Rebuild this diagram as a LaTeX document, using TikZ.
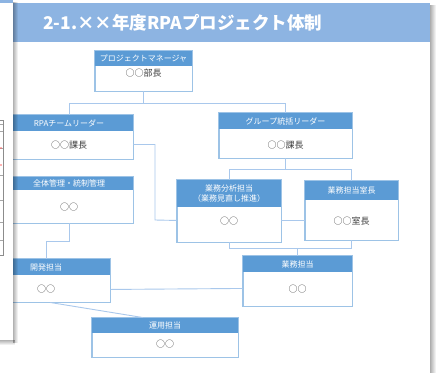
\documentclass[tikz,border=0pt]{standalone}
\usepackage{fontspec}
\setmainfont{Noto Sans CJK JP}
\usetikzlibrary{calc,fit}
\definecolor{hdrblue}{HTML}{5B9BD5}
\definecolor{titleblue}{HTML}{8DB4E2}
\definecolor{boxline}{HTML}{9DC3E6}
\definecolor{connc}{HTML}{A9C8EC}
\definecolor{bodyc}{HTML}{404040}
\tikzset{
  boxframe/.style={draw=boxline, line width=0.9pt, fill=white, inner sep=0pt},
  hdrtext/.style={text=white, font=\fontsize{8}{10.5}\selectfont, align=center, inner sep=0pt},
  bodytext/.style={text=bodyc, font=\fontsize{9}{11}\selectfont, inner sep=0pt},
  conn/.style={draw=connc, line width=0.9pt},
}
\newcommand\obox[9]{%
  \node[boxframe, fit={(#2,#3) (#4,#5)}] (#1) {};
  \fill[hdrblue] (#2,#3) rectangle (#4,#6);
  \draw[draw=boxline, line width=0.9pt] (#1.north west) rectangle (#1.south east);
  \node[hdrtext] (#1-h) at ({(#2+#4)/2},{(#3+#6)/2}) {#7};
  \node[bodytext] (#1-b) at ({(#2+#4)/2},#9) {#8};
}
\begin{document}
\begin{tikzpicture}[x=1pt,y=-1pt]
\useasboundingbox (0,0) rectangle (436,373);
% main slide
\fill[white] (-20,3) rectangle (430,380);
\fill[titleblue] (13,3) rectangle (430,42);
\node[anchor=west, text=white, font=\fontsize{17.5}{20}\selectfont\bfseries, inner sep=0pt] (title) at (43,23) {2-1.××年度RPAプロジェクト体制};
% right shadow of main slide
\foreach \i in {0,...,5} {\fill[black, opacity={0.32*(1-\i/6)}] (430+\i,5) rectangle (431+\i,373);}
% boxes
\obox{pm}{95}{51}{192}{91}{66}{プロジェクトマネージャ}{○○部長}{73}
\obox{rpa}{5}{115}{133}{159}{131}{RPAチームリーダー}{○○課長}{145}
\obox{grp}{219}{113}{352}{158}{129}{グループ統括リーダー}{○○課長}{145}
\obox{zen}{5}{177}{133}{223}{190}{全体管理・統制管理}{○○}{207}
\obox{bsa}{177}{180}{281}{242}{207}{業務分析担当\\（業務見直し推進）}{○○}{221}
\obox{mgr}{305}{181}{398}{240}{200}{業務担当室長}{○○室長}{221}
\obox{kai}{-18}{259}{110}{302}{275}{開発担当}{○○}{289}
\obox{gyo}{243}{256}{352}{306}{272}{業務担当}{○○}{289}
\obox{uny}{92}{318}{238}{357}{333}{運用担当}{○○}{344}
% connectors
\coordinate (j1) at ($(pm.south)+(0,12)$);
\draw[conn] (pm.south) -- (j1);
\draw[conn] (j1) -| (rpa.north);
\draw[conn] (j1) -| (grp.north);
\coordinate (r1) at ($(rpa.south east)+(0,-15)$);
\coordinate (b1) at ($(bsa.south west)+(0,-22)$);
\draw[conn] (r1) -| (155,220) -- (b1);
\coordinate (j2) at ($(grp.south)+(0,11)$);
\draw[conn] (grp.south) -- (j2);
\draw[conn] (j2) -| (bsa.north);
\draw[conn] (j2) -| (mgr.north);
\coordinate (b2) at ($(bsa.south east)+(0,-22)$);
\draw[conn] (b2) -- (mgr.west |- b2);
\coordinate (j3) at ($(bsa.south)+(0,6)$);
\draw[conn] (bsa.south) -- (j3) -| (mgr.south);
\draw[conn] (gyo.north) -- (gyo.north |- j3);
\coordinate (j4) at ($(zen.south)+(1,18)$);
\draw[conn] (zen.south) -- ++(0,18) -| (kai.north);
\coordinate (k1) at ($(kai.south east)+(0,-13)$);
\draw[conn] (k1) -- ($(gyo.west |- k1)+(0,-1)$);
\coordinate (k2) at ($(kai.south)+(4,0)$);
\coordinate (u1) at ($(uny.north)+(-22,0)$);
\draw[conn] (k2) -- (u1);
% left back panel with shadow
\foreach \i in {0,...,4} {\fill[black, opacity={0.3*(1-\i/5)}] (13+\i,2) rectangle (14+\i,343);}
\foreach \i in {0,...,4} {\fill[black, opacity={0.3*(1-\i/5)}] (-5,340+\i) rectangle (15,341+\i);}
\fill[white] (-5,-5) rectangle (13,340);
\fill[titleblue] (-5,-5) rectangle (13,3);
\draw[black!45, line width=0.5pt] (-5,120) rectangle (3,255);
\foreach \yy in {124,131,148,175,200,222,240} {\draw[black!35, line width=0.4pt] (-5,\yy) -- (3,\yy);}
\fill[red!60] (1,148) circle (0.8);
\fill[red!60] (1,165) circle (0.8);
\end{tikzpicture}
\end{document}
